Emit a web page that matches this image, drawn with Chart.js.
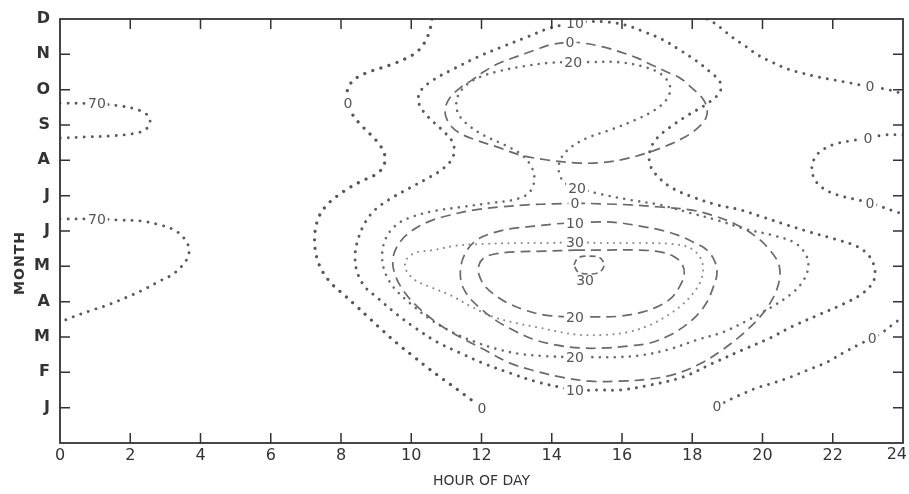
<!DOCTYPE html>
<html>
<head>
<meta charset="utf-8">
<script src="https://cdn.jsdelivr.net/npm/chart.js@4.4.1/dist/chart.umd.min.js"></script>
<style>
  html, body { margin: 0; padding: 0; background: #fff; }
  .chart-container { position: relative; width: 909px; height: 494px; }
</style>
</head>
<body>
<div class="chart-container"><canvas id="contourChart" width="909" height="494"></canvas></div>
<script>
// axis labels
const monthLetters = ['J', 'F', 'M', 'A', 'M', 'J', 'J', 'A', 'S', 'O', 'N', 'D'];
const hourTickValues = [2, 4, 6, 8, 10, 12, 14, 16, 18, 20, 22];
const monthTickValues = [1, 2, 3, 4, 5, 6, 7, 8, 9, 10, 11];

// contour lines, [hour, month] pairs (month 1 = Jan)
const north70 = [[0,9.62],[1.05,9.60],[1.71,9.54],[2.22,9.43],[2.51,9.26],[2.56,9.06],[2.42,8.86],[2.05,8.75],[1.42,8.69],[0.71,8.66],[0,8.63]];
const south70 = [[0,6.34],[1.05,6.34],[1.71,6.31],[2.33,6.28],[2.85,6.17],[3.25,6.03],[3.53,5.80],[3.67,5.52],[3.64,5.26],[3.47,5.01],[3.19,4.76],[2.85,4.59],[2.42,4.36],[1.91,4.13],[1.37,3.91],[0.85,3.74],[0.37,3.57],[0,3.42]];
const west0 = [[10.59,12],[10.53,11.69],[10.39,11.35],[10.16,11.07],[9.82,10.87],[9.40,10.70],[8.88,10.53],[8.48,10.36],[8.26,10.16],[8.17,9.91],[8.20,9.62],[8.34,9.28],[8.57,9.00],[8.85,8.72],[9.11,8.43],[9.25,8.12],[9.20,7.81],[8.97,7.59],[8.60,7.42],[8.23,7.22],[7.89,6.99],[7.60,6.74],[7.37,6.40],[7.26,5.97],[7.26,5.52],[7.35,5.12],[7.52,4.78],[7.77,4.47],[8.09,4.19],[8.43,3.88],[8.80,3.54],[9.20,3.17],[9.62,2.80],[10.05,2.46],[10.48,2.12],[10.90,1.81],[11.33,1.50],[11.67,1.25],[12.01,0.99]];
const southEast0 = [[18.70,1.05],[19.16,1.27],[19.50,1.42],[19.84,1.56],[20.21,1.67],[20.73,1.84],[21.30,2.07],[21.84,2.29],[22.35,2.58],[22.83,2.83],[23.12,2.97],[23.43,3.14],[23.69,3.34],[24,3.57]];
const northEast0 = [[18.42,12],[18.62,11.89],[18.85,11.72],[19.13,11.49],[19.50,11.24],[19.87,10.98],[20.27,10.78],[20.70,10.59],[21.12,10.47],[21.58,10.36],[22.06,10.27],[22.49,10.19],[23.06,10.08],[23.49,10.02],[23.80,9.94],[24,9.88]];
const east0 = [[24,8.72],[23.49,8.72],[23.0,8.63],[22.49,8.55],[22.06,8.46],[21.75,8.32],[21.52,8.12],[21.41,7.84],[21.44,7.56],[21.61,7.30],[21.92,7.10],[22.35,6.96],[22.72,6.88],[23.06,6.79],[23.40,6.68],[23.72,6.57],[24,6.48]];
const loop10 = [[14.66,11.89],[14.32,11.83],[13.95,11.75],[13.30,11.49],[12.58,11.21],[11.90,10.93],[11.25,10.61],[10.62,10.27],[10.25,9.94],[10.22,9.60],[10.48,9.23],[10.88,8.86],[11.19,8.49],[11.19,8.10],[10.90,7.76],[10.48,7.50],[9.96,7.22],[9.40,6.91],[8.97,6.60],[8.68,6.23],[8.48,5.75],[8.40,5.29],[8.46,4.84],[8.68,4.42],[9.05,4.10],[9.54,3.68],[10.11,3.26],[10.73,2.86],[11.39,2.55],[12.04,2.26],[12.81,1.98],[13.58,1.73],[14.32,1.56],[14.66,1.50],[15.37,1.50],[15.94,1.50],[16.80,1.64],[17.74,1.87],[18.59,2.26],[19.42,2.63],[20.21,2.97],[20.87,3.31],[21.58,3.62],[22.29,3.93],[22.83,4.22],[23.15,4.56],[23.20,4.90],[23.06,5.26],[22.72,5.55],[22.06,5.77],[21.35,5.97],[20.70,6.17],[19.99,6.40],[19.36,6.60],[18.70,6.74],[18.02,6.96],[17.42,7.22],[17.03,7.53],[16.80,7.87],[16.80,8.29],[17.00,8.63],[17.37,8.94],[17.88,9.28],[18.45,9.62],[18.79,9.94],[18.79,10.22],[18.51,10.50],[18.08,10.84],[17.65,11.12],[17.17,11.41],[16.65,11.63],[16.09,11.83],[15.52,11.92],[14.95,11.92],[14.66,11.89]];
const loop20 = [[14.61,10.78],[15.09,10.78],[15.89,10.78],[16.65,10.64],[17.14,10.42],[17.37,10.08],[17.28,9.74],[16.94,9.43],[16.37,9.14],[15.66,8.86],[15.00,8.63],[14.52,8.35],[14.24,8.01],[14.21,7.64],[14.38,7.36],[14.72,7.22],[15.37,7.05],[16.23,6.88],[17.08,6.74],[17.94,6.51],[18.70,6.31],[19.50,6.06],[20.36,5.86],[20.93,5.66],[21.24,5.32],[21.30,4.95],[21.12,4.53],[20.78,4.19],[20.21,3.82],[19.59,3.48],[18.88,3.14],[18.14,2.92],[17.37,2.66],[16.60,2.49],[15.86,2.43],[15.09,2.43],[14.61,2.43],[13.81,2.46],[13.10,2.52],[12.44,2.66],[11.82,2.86],[11.16,3.14],[10.53,3.51],[9.96,3.96],[9.51,4.39],[9.25,4.84],[9.17,5.32],[9.28,5.80],[9.57,6.17],[10.02,6.40],[10.68,6.57],[11.44,6.68],[12.24,6.79],[12.90,6.88],[13.32,7.05],[13.50,7.39],[13.44,7.78],[13.15,8.15],[12.67,8.43],[12.10,8.69],[11.62,9.00],[11.33,9.34],[11.30,9.74],[11.53,10.10],[11.96,10.36],[12.53,10.53],[13.24,10.67],[13.95,10.76],[14.61,10.78]];
const loop30 = [[14.66,5.69],[15.37,5.66],[16.51,5.66],[17.45,5.63],[17.94,5.52],[18.22,5.26],[18.31,4.95],[18.25,4.61],[18.05,4.27],[17.71,3.91],[17.31,3.62],[16.80,3.34],[16.17,3.14],[15.52,3.06],[14.80,3.06],[14.24,3.14],[13.67,3.26],[12.95,3.40],[12.33,3.57],[11.67,3.88],[11.10,4.19],[10.53,4.42],[10.11,4.61],[9.85,4.90],[9.85,5.18],[10.11,5.38],[10.62,5.46],[11.25,5.58],[11.96,5.63],[13.10,5.66],[13.95,5.66],[14.66,5.69]];
const dashTop0 = [[14.52,11.35],[14.89,11.32],[15.46,11.21],[15.94,11.07],[16.43,10.90],[16.85,10.70],[17.28,10.50],[17.65,10.33],[17.99,10.05],[18.28,9.77],[18.42,9.48],[18.39,9.20],[18.16,8.92],[17.79,8.66],[17.31,8.43],[16.71,8.21],[16.09,8.04],[15.37,7.93],[14.66,7.93],[13.87,8.01],[13.10,8.15],[12.44,8.38],[11.82,8.58],[11.33,8.80],[11.05,9.09],[10.96,9.43],[11.10,9.77],[11.39,10.05],[11.73,10.27],[12.10,10.53],[12.53,10.76],[13.04,10.95],[13.52,11.12],[13.95,11.27],[14.52,11.35]];
const dash0 = [[14.66,6.79],[15.37,6.77],[16.23,6.74],[17.08,6.68],[17.94,6.60],[18.56,6.45],[19.22,6.20],[19.79,5.86],[20.21,5.46],[20.47,5.04],[20.47,4.56],[20.27,4.05],[19.93,3.57],[19.44,3.09],[18.85,2.63],[18.22,2.24],[17.51,1.95],[16.80,1.81],[15.94,1.75],[15.09,1.75],[14.24,1.87],[13.52,2.04],[12.81,2.26],[12.10,2.63],[11.44,2.97],[10.82,3.34],[10.25,3.79],[9.82,4.25],[9.54,4.76],[9.48,5.24],[9.68,5.69],[10.05,6.03],[10.53,6.28],[11.10,6.45],[11.82,6.60],[12.53,6.68],[13.30,6.74],[14.09,6.77],[14.66,6.79]];
const dash10 = [[14.66,6.23],[15.37,6.26],[15.94,6.23],[16.51,6.14],[17.08,6.03],[17.57,5.89],[18.02,5.69],[18.42,5.46],[18.65,5.12],[18.70,4.76],[18.59,4.39],[18.42,3.99],[18.14,3.62],[17.74,3.28],[17.31,3.03],[16.80,2.83],[16.23,2.75],[15.52,2.69],[14.80,2.69],[14.15,2.77],[13.52,2.92],[12.95,3.17],[12.44,3.45],[11.96,3.82],[11.62,4.16],[11.42,4.56],[11.42,5.04],[11.59,5.46],[11.87,5.75],[12.30,5.94],[12.81,6.06],[13.52,6.14],[14.09,6.20],[14.66,6.23]];
const dash20 = [[14.66,5.46],[15.37,5.46],[16.51,5.46],[17.08,5.41],[17.45,5.29],[17.71,5.07],[17.77,4.76],[17.62,4.39],[17.40,4.10],[17.05,3.88],[16.60,3.71],[15.94,3.59],[15.29,3.57],[14.66,3.57],[13.81,3.62],[13.24,3.76],[12.75,3.96],[12.38,4.19],[12.10,4.44],[11.93,4.76],[11.93,5.04],[12.07,5.24],[12.38,5.35],[12.95,5.41],[13.81,5.43],[14.66,5.46]];
const dash30 = [[14.63,5.04],[14.75,5.24],[15.06,5.29],[15.37,5.24],[15.49,5.04],[15.37,4.84],[15.06,4.78],[14.75,4.84],[14.63,5.04]];

// contour value labels: [hour, month, text]
const contourLabels = [
  [1.05, 9.60, '70'], [1.05, 6.34, '70'], [8.20, 9.62, '0'],
  [14.66, 11.89, '10'], [14.52, 11.35, '0'], [14.61, 10.78, '20'],
  [14.72, 7.22, '20'], [14.66, 6.79, '0'], [14.66, 6.23, '10'],
  [14.66, 5.69, '30'], [14.95, 4.59, '30'], [14.66, 3.57, '20'],
  [14.66, 2.41, '20'], [14.66, 1.50, '10'], [12.01, 0.99, '0'],
  [18.70, 1.05, '0'], [23.12, 2.97, '0'], [23.0, 8.63, '0'],
  [23.06, 6.79, '0'], [23.06, 10.08, '0']
];

function toPoints(list) {
  return list.map(function(p) { return {x: p[0], y: p[1]}; });
}

function dottedLine(list, width, gap, color) {
  return {
    data: toPoints(list),
    showLine: true,
    tension: 0.35,
    pointRadius: 0,
    borderColor: color,
    borderWidth: width,
    borderDash: [0.01, gap],
    borderCapStyle: 'round'
  };
}

function dashedLine(list, dash) {
  return {
    data: toPoints(list),
    showLine: true,
    tension: 0.35,
    pointRadius: 0,
    borderColor: '#6a6a6a',
    borderWidth: 1.7,
    borderDash: dash,
    borderCapStyle: 'butt'
  };
}

const datasets = [
  dottedLine(north70, 2.9, 8, '#5a5a5a'),
  dottedLine(south70, 2.9, 8, '#5a5a5a'),
  dottedLine(west0, 3.2, 8.5, '#555'),
  dottedLine(southEast0, 2.9, 8, '#5a5a5a'),
  dottedLine(northEast0, 2.9, 8, '#5a5a5a'),
  dottedLine(east0, 2.9, 8, '#5a5a5a'),
  dottedLine(loop10, 3.0, 8, '#5a5a5a'),
  dottedLine(loop20, 2.6, 7.5, '#6a6a6a'),
  dottedLine(loop30, 2.1, 6.5, '#8a8a8a'),
  dashedLine(dashTop0, [10, 6]),
  dashedLine(dash0, [10, 6]),
  dashedLine(dash10, [10, 6]),
  dashedLine(dash20, [10, 6]),
  dashedLine(dash30, [6, 4])
];

const framePlugin = {
  id: 'frame',
  afterDatasetsDraw(chart) {
    const ctx = chart.ctx;
    const area = chart.chartArea;
    const xScale = chart.scales.x;
    const yScale = chart.scales.y;

    ctx.save();

    // contour labels with a small gap in the line
    ctx.font = '14px "DejaVu Sans"';
    ctx.textAlign = 'center';
    ctx.textBaseline = 'middle';
    contourLabels.forEach(function(item) {
      const px = xScale.getPixelForValue(item[0]);
      const py = yScale.getPixelForValue(item[1]);
      const w = ctx.measureText(item[2]).width;
      ctx.fillStyle = '#fff';
      ctx.fillRect(px - w / 2 - 2, py - 6, w + 4, 12);
      ctx.fillStyle = '#555';
      ctx.fillText(item[2], px, py + 1);
    });

    // frame
    ctx.strokeStyle = '#333';
    ctx.lineWidth = 1.8;
    ctx.strokeRect(area.left, area.top, area.right - area.left, area.bottom - area.top);

    // inward tick marks on all four sides
    ctx.lineWidth = 1.5;
    ctx.beginPath();
    hourTickValues.forEach(function(h) {
      const px = xScale.getPixelForValue(h);
      ctx.moveTo(px, area.bottom);
      ctx.lineTo(px, area.bottom - 10);
      ctx.moveTo(px, area.top);
      ctx.lineTo(px, area.top + 10);
    });
    monthTickValues.forEach(function(m) {
      const py = yScale.getPixelForValue(m);
      ctx.moveTo(area.left, py);
      ctx.lineTo(area.left + 10, py);
      ctx.moveTo(area.right, py);
      ctx.lineTo(area.right - 10, py);
    });
    ctx.stroke();

    // last hour label would be cut at the canvas edge, keep it inside
    ctx.fillStyle = '#333';
    ctx.font = '16px "DejaVu Sans"';
    ctx.textAlign = 'right';
    ctx.textBaseline = 'top';
    ctx.fillText('24', area.right + 4, area.bottom + 4);

    // y axis title sits a bit below the middle in the original
    ctx.translate(20, (area.top + area.bottom) / 2 + 32);
    ctx.rotate(-Math.PI / 2);
    ctx.textAlign = 'center';
    ctx.textBaseline = 'middle';
    ctx.font = 'bold 14px "DejaVu Sans"';
    ctx.letterSpacing = '1px';
    ctx.fillText('MONTH', 0, 0);

    ctx.restore();
  }
};

const ctx = document.getElementById('contourChart').getContext('2d');
const contourChart = new Chart(ctx, {
  type: 'scatter',
  data: { datasets: datasets },
  options: {
    responsive: false,
    animation: false,
    layout: { padding: { top: 19, right: 6, left: 0, bottom: 0 } },
    plugins: {
      legend: { display: false },
      tooltip: { enabled: false }
    },
    scales: {
      x: {
        type: 'linear',
        min: 0,
        max: 24,
        grid: { display: false, drawTicks: false },
        border: { display: false },
        ticks: {
          stepSize: 2,
          padding: 3,
          color: '#333',
          font: { family: 'DejaVu Sans', size: 16 },
          maxRotation: 0,
          callback: function(value) {
            return value === 24 ? '' : value;
          }
        },
        title: {
          display: true,
          text: 'HOUR OF DAY',
          color: '#333',
          font: { family: 'DejaVu Sans', size: 14 },
          padding: { top: 0, bottom: 4 }
        },
        afterFit: function(scale) {
          scale.height = 51;
          scale.paddingLeft = 0;
          scale.paddingRight = 0;
        }
      },
      y: {
        type: 'linear',
        min: 0,
        max: 12,
        grid: { display: false, drawTicks: false },
        border: { display: false },
        ticks: {
          stepSize: 1,
          padding: 10,
          color: '#333',
          font: { family: 'DejaVu Sans', size: 16, weight: 'bold' },
          callback: function(value) {
            return value === 0 ? '' : monthLetters[value - 1];
          }
        },
        afterFit: function(scale) {
          scale.width = 60;
          scale.paddingTop = 0;
          scale.paddingBottom = 0;
        }
      }
    }
  },
  plugins: [framePlugin]
});
</script>
</body>
</html>
